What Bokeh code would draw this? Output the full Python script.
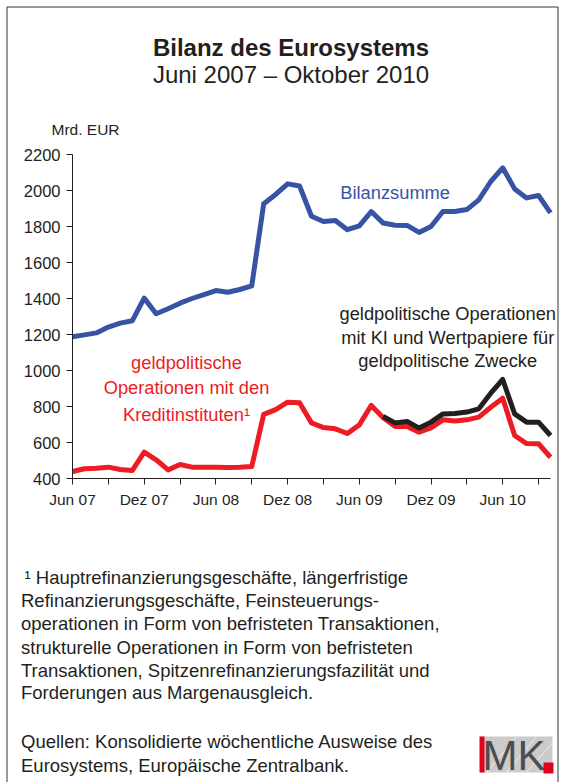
from bokeh.plotting import figure
from bokeh.models import Range1d, FixedTicker, Label, LinearAxis
from bokeh.embed import file_html
from bokeh.resources import INLINE

# ---------------- data (monthly, Jun 07 .. Okt 10), Mrd. EUR ----------------
months = list(range(41))  # 0 = Jun 07, 40 = Okt 10

bilanzsumme = [1188, 1198, 1209, 1241, 1263, 1276, 1402, 1315, 1343, 1374,
               1400, 1422, 1444, 1435, 1450, 1470, 1926, 1978, 2037, 2025,
               1857, 1828, 1833, 1782, 1804, 1883, 1819, 1807, 1806, 1767,
               1800, 1883, 1883, 1894, 1948, 2050, 2126, 2009, 1959, 1972,
               1876]

geldpol_ki = [439, 454, 457, 463, 450, 444, 546, 504, 448, 478,
              463, 463, 463, 461, 463, 467, 756, 783, 824, 821,
              709, 683, 676, 650, 698, 806, 737, 689, 689, 657,
              681, 726, 720, 726, 741, 796, 846, 639, 594, 593,
              518]

kombi_months = list(range(26, 41))
geldpol_ki_wp = [744, 709, 717, 680, 713, 759, 761, 769, 787, 874,
                 950, 759, 713, 713, 639]

x_major = [0, 6, 12, 18, 24, 30, 36]
x_major_labels = ["Jun 07", "Dez 07", "Jun 08", "Dez 08", "Jun 09", "Dez 09", "Jun 10"]
x_minor = [3, 9, 15, 21, 27, 33, 39]
y_ticks = [400, 600, 800, 1000, 1200, 1400, 1600, 1800, 2000, 2200]

title = "Bilanz des Eurosystems"
subtitle = "Juni 2007 \u2013 Oktober 2010"
unit_label = "Mrd. EUR"
label_bilanz = "Bilanzsumme"
label_ki = ["geldpolitische", "Operationen mit den", "Kreditinstituten\u00b9"]
label_kiwp = ["geldpolitische Operationen", "mit KI und Wertpapiere f\u00fcr", "geldpolitische Zwecke"]
footnote_lines = [
    "\u00b9 Hauptrefinanzierungsgesch\u00e4fte, l\u00e4ngerfristige",
    "Refinanzierungsgesch\u00e4fte, Feinsteuerungs-",
    "operationen in Form von befristeten Transaktionen,",
    "strukturelle Operationen in Form von befristeten",
    "Transaktionen, Spitzenrefinanzierungsfazilit\u00e4t und",
    "Forderungen aus Margenausgleich.",
]
source_lines = [
    "Quellen: Konsolidierte w\u00f6chentliche Ausweise des",
    "Eurosystems, Europ\u00e4ische Zentralbank.",
]

# ---------------- layout (page pixels) ----------------
W, H = 568, 782
X_START_PX, X_END_PX = 72.0, 550.0     # Jun 07 .. Okt 10
Y_BOT_PX, Y_TOP_PX = 478.0, 154.0      # 400 .. 2200
x_lo, x_hi = months[0], months[-1]
y_lo, y_hi = y_ticks[0], y_ticks[-1]
kx = (X_END_PX - X_START_PX) / (x_hi - x_lo)
ky = (Y_BOT_PX - Y_TOP_PX) / (y_hi - y_lo)
x_range = Range1d(x_lo - X_START_PX / kx, x_hi + (W - X_END_PX) / kx)
y_range = Range1d(y_lo - (H - Y_BOT_PX) / ky, y_hi + Y_TOP_PX / ky)

FONT = "Liberation Sans"
TXT = "#231F20"
BLUE = "#3653A4"
RED = "#ED1C24"
BLACK = "#231F20"

p = figure(width=W, height=H, x_range=x_range, y_range=y_range,
           x_axis_type=None, y_axis_type=None,
           output_backend="svg", toolbar_location=None, min_border=0)
p.extra_x_ranges = {"px": Range1d(0, W)}
p.extra_y_ranges = {"px": Range1d(H, 0)}
p.outline_line_color = None
p.background_fill_color = "white"
p.border_fill_color = "white"

xaxis = LinearAxis(ticker=FixedTicker(ticks=x_major, minor_ticks=x_minor),
                   major_label_overrides={v: l for v, l in zip(x_major, x_major_labels)},
                   fixed_location=y_lo, bounds=(x_lo, x_hi))
yaxis = LinearAxis(ticker=FixedTicker(ticks=y_ticks), fixed_location=x_lo,
                   bounds=(y_lo, y_hi))
for ax in (xaxis, yaxis):
    ax.axis_line_color = TXT
    ax.axis_line_width = 1
    ax.major_tick_line_color = TXT
    ax.minor_tick_line_color = TXT
    ax.major_tick_in = 0
    ax.major_tick_out = 6
    ax.minor_tick_in = 0
    ax.major_label_text_font = FONT
    ax.major_label_text_color = TXT
xaxis.minor_tick_out = 6
yaxis.minor_tick_out = 0
xaxis.major_label_text_font_size = "15.5px"
yaxis.major_label_text_font_size = "16.5px"
xaxis.major_label_standoff = 6
yaxis.major_label_standoff = 6
p.add_layout(xaxis, "below")
p.add_layout(yaxis, "left")

# ---------------- series ----------------
p.line(months, bilanzsumme, line_color=BLUE, line_width=5, line_join="round")
p.line(months, geldpol_ki, line_color=RED, line_width=5, line_join="round")
p.line(kombi_months, geldpol_ki_wp, line_color=BLACK, line_width=5, line_join="round")

# ---------------- in-chart labels (data units) ----------------
LBL = "18.3px"
p.add_layout(Label(x=27.0, y=1987, text=label_bilanz, text_align="center",
                   text_baseline="middle", text_font=FONT, text_font_size=LBL,
                   text_color=BLUE))
for txt, yy in zip(label_ki, [1046, 907, 758]):
    p.add_layout(Label(x=9.54, y=yy, text=txt, text_align="center",
                       text_baseline="middle", text_font=FONT, text_font_size=LBL,
                       text_color=RED))
for txt, yy in zip(label_kiwp, [1315, 1182, 1056]):
    p.add_layout(Label(x=31.4, y=yy, text=txt, text_align="center",
                       text_baseline="middle", text_font=FONT, text_font_size=LBL,
                       text_color=TXT))

# ---------------- page texts (page pixel range) ----------------
def ptext(x, y, text, size, align="left", style="normal", color=TXT):
    p.add_layout(Label(x=x, y=y, x_range_name="px", y_range_name="px", text=text,
                       text_align=align, text_baseline="middle", text_font=FONT,
                       text_font_size=size, text_font_style=style, text_color=color))

ptext(290.5, 46.5, title, "24px", align="center", style="bold")
ptext(290.5, 73.5, subtitle, "24px", align="center")
ptext(51, 128.5, unit_label, "15.5px")

fy = [577, 600, 623, 647, 670, 692]
for i, (t, yy) in enumerate(zip(footnote_lines, fy)):
    ptext(24 if i == 0 else 20.5, yy, t, "18.5px")
for t, yy in zip(source_lines, [741, 765]):
    ptext(20.5, yy, t, "18.5px")

# frame around the page
p.quad(left=[6.5], right=[557.5], top=[6.5], bottom=[900],
       x_range_name="px", y_range_name="px",
       fill_color=None, line_color="#333333", line_width=1)

# IMK logo
p.quad(left=[480], right=[552], top=[736], bottom=[772],
       x_range_name="px", y_range_name="px", fill_color="#CBCBCB", line_color=None)
p.segment(x0=[486, 506, 526], y0=[772, 772, 772], x1=[516, 536, 552], y1=[736, 736, 742],
          x_range_name="px", y_range_name="px", line_color="#EDEDED", line_width=1)
p.quad(left=[479], right=[484], top=[736], bottom=[772],
       x_range_name="px", y_range_name="px", fill_color="#E3001B", line_color=None)
p.quad(left=[543], right=[553], top=[762], bottom=[773],
       x_range_name="px", y_range_name="px", fill_color="#E3001B", line_color=None)
ptext(513.5, 755, "MK", "42px", align="center", color="#4D4D4F")

open("out.html", "w").write(file_html(p, INLINE))
